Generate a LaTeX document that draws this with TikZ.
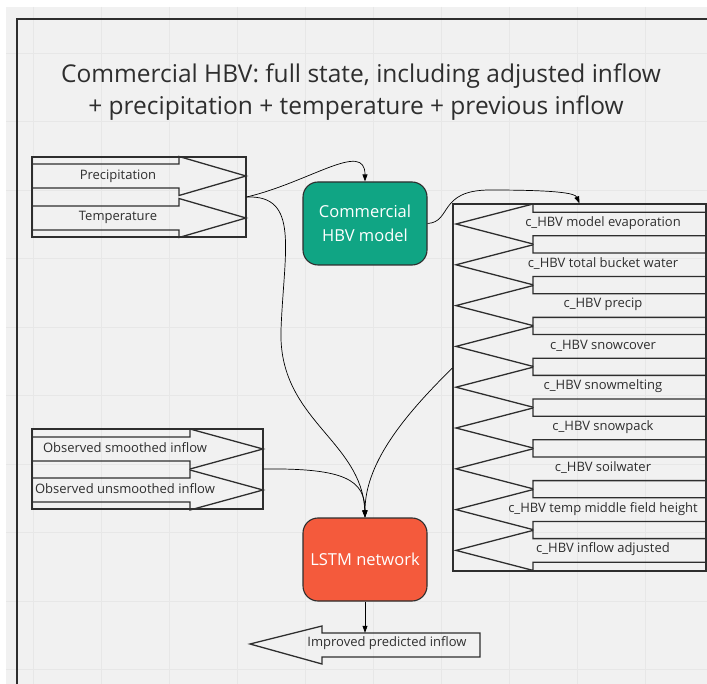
\documentclass[tikz,border=0pt]{standalone}
\usepackage{fontspec}
\setmainfont{Open Sans}
\usetikzlibrary{arrows.meta,calc}
\definecolor{canvas}{HTML}{F1F1F1}
\definecolor{gridc}{HTML}{E7E7E7}
\definecolor{ink}{HTML}{2E2E2E}
\definecolor{hbvgreen}{HTML}{10A584}
\definecolor{lstmred}{HTML}{F45A3C}
\begin{document}
\begin{tikzpicture}[x=1pt,y=-1pt,
  box/.style={draw=ink, line width=1.3pt, inner sep=0pt},
  listarrow/.style={draw=ink, line width=1.3pt, line join=miter},
  label/.style={text=ink, font=\fontsize{13}{15}\selectfont, inner sep=0pt},
  heading/.style={text=ink, font=\fontsize{24.5}{28}\selectfont, inner sep=0pt},
  proc/.style={draw=ink, line width=1.1pt, rounded corners=15pt, minimum width=124pt,
    minimum height=83pt, text=white, align=center, font=\fontsize{16.5}{24}\selectfont},
  conn/.style={draw=black, line width=0.7pt, -{Triangle[length=7pt,width=5pt]}},
  plain/.style={draw=black, line width=0.7pt}]
\useasboundingbox (0,0) rectangle (707,684);
% canvas and grid
\fill[white] (0,0) rectangle (707,684);
\fill[canvas] (6,7) rectangle (707,684);
\foreach \gx in {33,101,...,645} \draw[gridc, line width=0.8pt] (\gx,7) -- (\gx,684);
\foreach \gy in {53,121.5,...,684} \draw[gridc, line width=0.8pt] (6,\gy) -- (707,\gy);
% frame
\draw[ink, line width=1.4pt] (17,684) -- (17,19) -- (707,19);
% title
\node[heading] (title1) at (361,76) {Commercial HBV: full state, including adjusted inflow};
\node[heading] (title2) at (356,108) {+ precipitation + temperature + previous inflow};

% inputs: precipitation and temperature
\node[box, minimum width=214pt, minimum height=80pt] (inputs) at (139,197) {};
\foreach \c in {176,218}
  \draw[listarrow] (32,\c-12) -- (179,\c-12) -- (179,\c-19.5) -- (246,\c)
    -- (179,\c+19.5) -- (179,\c+12) -- (32,\c+12);
\node[label] (prec) at (118,176) {Precipitation};
\node[label] (temp) at (118,217) {Temperature};

% observed inflow
\node[box, minimum width=231pt, minimum height=80pt] (obs) at (147.5,469) {};
\foreach \c in {449,490}
  \draw[listarrow] (32,\c-12) -- (190,\c-12) -- (190,\c-20) -- (263,\c)
    -- (190,\c+20) -- (190,\c+12) -- (32,\c+12);
\node[label] (obs1) at (125,448) {Observed smoothed inflow};
\node[label] (obs2) at (125,489) {Observed unsmoothed inflow};

% model state
\node[box, minimum width=253pt, minimum height=367pt] (state) at (579.5,387.5) {};
\foreach \t [count=\i from 0] in {model evaporation, total bucket water, precip,
    snowcover, snowmelting, snowpack, soilwater, temp middle field height, inflow adjusted}{
  \pgfmathsetmacro{\c}{224+40.8*\i}
  \draw[listarrow] (706,\c-11.8) -- (533,\c-11.8) -- (533,\c-20) -- (456,\c)
    -- (533,\c+20) -- (533,\c+11.8) -- (706,\c+11.8);
  \node[label] (s\i) at (603,\c-1) {c\_HBV \t};
}

% models
\node[proc, fill=hbvgreen] (hbv) at (365,223.5) {Commercial\\HBV model};
\node[proc, fill=lstmred] (lstm) at (365,559.5) {LSTM network};

% output
\draw[listarrow] (480,633) -- (322,633) -- (322,626) -- (250,644) -- (322,664)
  -- (322,657) -- (480,657) -- cycle;
\node[inner sep=0pt, minimum width=158pt, minimum height=24pt] (outshaft) at (401,645) {};
\node[label] (outtext) at (387,643) {Improved predicted inflow};

% connectors
\draw[conn] (inputs.east) .. controls (310,182) and (365,140) .. (hbv.north);
\draw[conn] (inputs.east) .. controls (300,195) and (284,250) .. (281,330)
  .. controls (278,420) and (362,440) .. (lstm.north);
\draw[conn] (hbv.east) .. controls (452,222) and (438,190) .. (490,190)
  .. controls (555,190) and (575,193) .. (state.north);
\draw[conn] ([yshift=19.5pt]state.west) .. controls (410,410) and (365,460) .. (lstm.north);
\draw[conn] (obs.east) .. controls (345,468) and (365,480) .. (lstm.north);
\draw[conn] (lstm.south) -- (lstm.south |- outshaft.north);
\end{tikzpicture}
\end{document}
